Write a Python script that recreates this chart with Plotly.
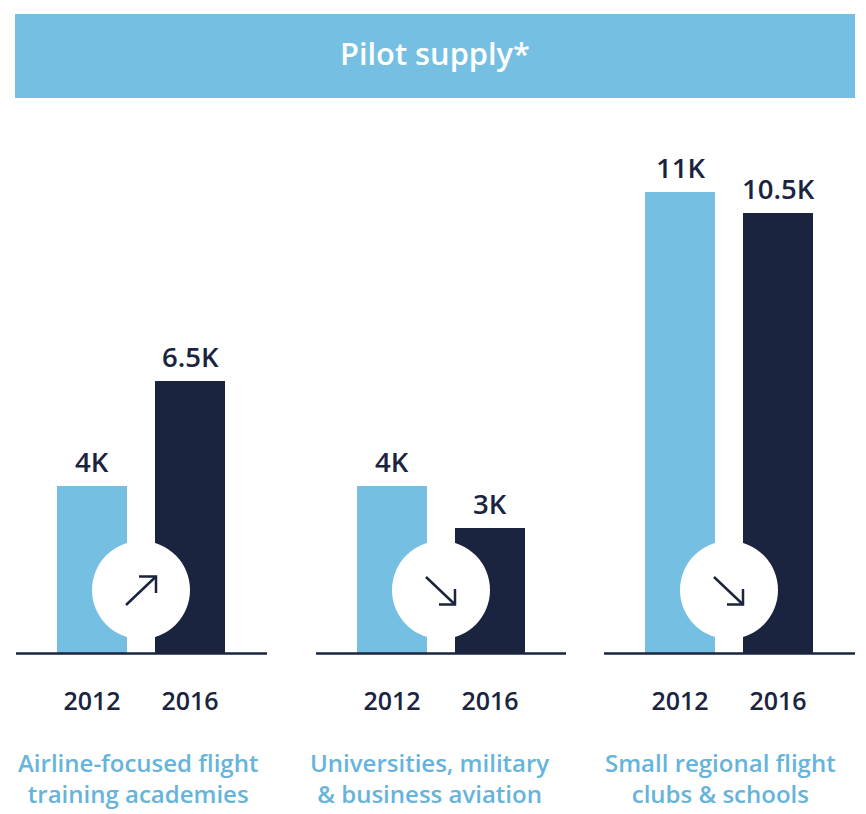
import plotly.graph_objects as go

W, H = 866, 814
title = "Pilot supply*"
years = ["2012", "2016"]
groups = ["Airline-focused flight<br>training academies",
          "Universities, military<br>& business aviation",
          "Small regional flight<br>clubs & schools"]
supply_2012 = [4, 4, 11]
supply_2016 = [6.5, 3, 10.5]
labels_2012 = ["4K", "4K", "11K"]
labels_2016 = ["6.5K", "3K", "10.5K"]
directions = ["up", "down", "down"]

LIGHT = "#75BFE3"
NAVY = "#1A243F"
LABEL = "#66B4DB"
FONT = "Open Sans"

# layout, in pixels
axis_spans = [(16, 267), (316, 566), (604, 855)]
first_bar_centre = [92, 392, 680]
group_label_centre = [138, 429.5, 720.5]
step = 98
bar_w = 70
base_y = 653.5
px_per_k = 41.95
y_max = 12
top_y = base_y - y_max * px_per_k


def px(x):
    return x / W


def py(y):
    return 1 - y / H


fig = go.Figure()
shapes = [dict(type="rect", xref="paper", yref="paper", x0=px(15), x1=px(855), y0=py(98), y1=py(14),
               fillcolor=LIGHT, line_width=0, layer="below")]
annotations = [dict(text=title, xref="paper", yref="paper", x=px(435), y=py(52.5), showarrow=False,
                    xanchor="center", yanchor="middle",
                    font=dict(family=FONT, size=30.8, color="white", weight=600))]

for i, (span, c0) in enumerate(zip(axis_spans, first_bar_centre)):
    n = "" if i == 0 else str(i + 1)
    xa, ya = f"x{n}", f"y{n}"
    values = [supply_2012[i], supply_2016[i]]
    texts = [labels_2012[i], labels_2016[i]]
    fig.add_trace(go.Bar(
        x=years, y=values,
        xaxis=xa, yaxis=ya,
        width=bar_w / step,
        marker=dict(color=[LIGHT, NAVY], line_width=0),
        showlegend=False, hoverinfo="skip",
    ))
    for j, (v, t) in enumerate(zip(values, texts)):
        annotations.append(dict(text=t, xref=xa, yref=ya, x=j, y=v, yanchor="bottom", xanchor="center",
                                yshift=4, showarrow=False,
                                font=dict(family=FONT, size=27.5, color=NAVY, weight=600)))
    fig.update_layout({
        f"xaxis{n}": dict(
            domain=[px(span[0]), px(span[1])],
            type="category", categoryorder="array", categoryarray=years,
            range=[(span[0] - c0) / step, (span[1] - c0) / step],
            showgrid=False, zeroline=False, showline=False,
            ticks="outside", ticklen=25, tickcolor="rgba(0,0,0,0)",
            tickfont=dict(family=FONT, size=25, color=NAVY, weight=600),
            anchor=ya, fixedrange=True,
        ),
        f"yaxis{n}": dict(
            domain=[py(base_y), py(top_y)], range=[0, y_max],
            showgrid=False, zeroline=False, showline=False, showticklabels=False, ticks="",
            anchor=xa, fixedrange=True,
        ),
    })

    # baseline under the bars
    shapes.append(dict(type="line", xref="paper", yref="paper", x0=px(span[0]), x1=px(span[1]),
                       y0=py(base_y), y1=py(base_y), line=dict(color=NAVY, width=2.5), layer="above"))

    # white disc between the two bars, with the trend arrow
    cx = c0 + step / 2
    cy = 590
    r = 49
    shapes.append(dict(type="circle", xref="paper", yref="paper",
                       x0=px(cx - r), x1=px(cx + r), y0=py(cy + r), y1=py(cy - r),
                       fillcolor="white", line_width=0, layer="above"))
    if directions[i] == "up":
        pts = [(cx - 15, cy + 15), (cx + 15, cy - 13.5)]
        head = [(cx - 2, cy - 13.5), (cx + 15, cy - 13.5), (cx + 15, cy + 3)]
    else:
        pts = [(cx - 15, cy - 13), (cx + 14, cy + 14.5)]
        head = [(cx - 2, cy + 14.5), (cx + 14, cy + 14.5), (cx + 14, cy - 1)]
    for line in (pts, head):
        path = "M " + " L ".join(f"{px(a):.5f},{py(b):.5f}" for a, b in line)
        shapes.append(dict(type="path", xref="paper", yref="paper", path=path,
                           line=dict(color=NAVY, width=2.5), layer="above"))

    annotations.append(dict(text=groups[i], xref="paper", yref="paper",
                            x=px(group_label_centre[i]), y=py(778),
                            showarrow=False, xanchor="center", yanchor="middle", align="center",
                            font=dict(family=FONT, size=24, color=LABEL, weight=600)))

fig.update_layout(width=W, height=H, margin=dict(l=0, r=0, t=0, b=0, pad=0),
                  paper_bgcolor="white", plot_bgcolor="rgba(0,0,0,0)",
                  shapes=shapes, annotations=annotations, bargap=0)

fig.write_html("out.html", config=dict(displayModeBar=False),
               post_script="document.body.style.margin='0';")
